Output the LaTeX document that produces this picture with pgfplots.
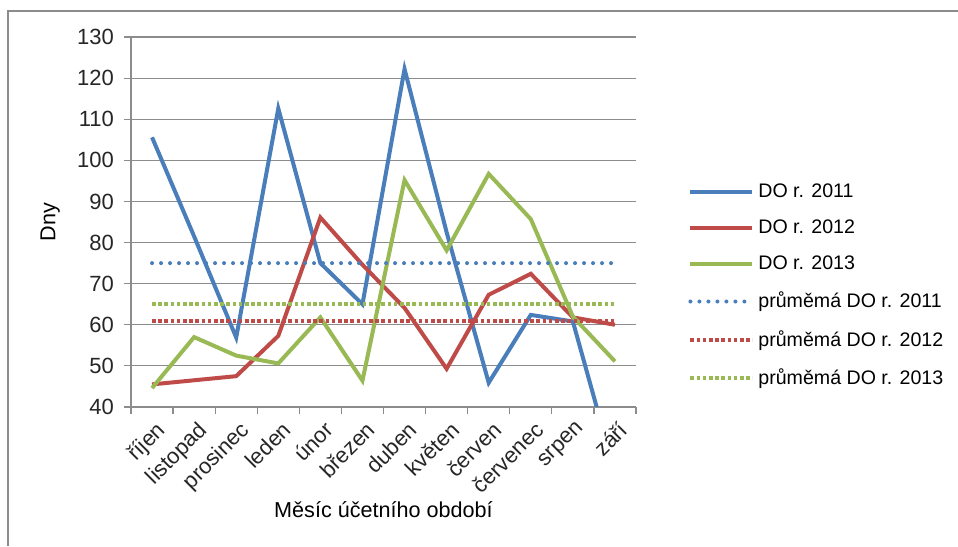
\documentclass[border=0pt]{standalone}
\usepackage{pgfplots}
\pgfplotsset{compat=1.18}
\usepackage{fontspec}
\setmainfont{Liberation Sans}
\definecolor{cblue}{HTML}{4A7EBB}
\definecolor{cred}{HTML}{BE4B48}
\definecolor{cgreen}{HTML}{98B954}
\definecolor{cgrid}{HTML}{8C8C8C}
\begin{document}
\begin{tikzpicture}
\useasboundingbox (0,0) rectangle (479pt,273pt);
\draw[cgrid, line width=1pt] (4pt,0) -- (4pt,267.5pt) -- (479pt,267.5pt);
\begin{axis}[
  at={(65.5pt,69.5pt)}, anchor=south west,
  width=252.5pt, height=185pt, scale only axis,
  xmin=-0.5, xmax=11.5, ymin=40, ymax=130,
  axis x line*=bottom, axis y line*=left,
  axis line style={cgrid, line width=0.6pt},
  ymajorgrids, grid style={cgrid, line width=0.6pt},
  ytick={40,50,...,130},
  xtick={0,...,11},
  xticklabels={říjen,listopad,prosinec,leden,únor,březen,duben,květen,červen,červenec,srpen,září},
  minor xtick={-0.5,0.5,...,11.5},
  major x tick style={draw=none},
  tick align=outside,
  major tick length=3.5pt, minor tick length=3.5pt,
  tick style={cgrid, line width=0.6pt},
  minor tick style={cgrid, line width=0.6pt},
  /pgf/number format/assume math mode=true,
  ticklabel style={font=\fontsize{11}{12}\selectfont, text=black!85},
  xticklabel style={rotate=45, anchor=north east, inner sep=1pt, yshift=-2pt},
  yticklabel style={xshift=-1.5pt},
  ylabel={Dny},
  ylabel style={at={(axis description cs:-0.16,0.5)}, anchor=center, rotate=0, font=\fontsize{10.8}{12}\selectfont},
  xlabel={Měsíc účetního období},
  xlabel style={at={(axis description cs:0.5,-0.278)}, anchor=center, font=\fontsize{10.8}{12}\selectfont},
  legend style={at={(axis description cs:1.103,0.615)}, anchor=north west, draw=none, fill=none,
    font=\fontsize{9.8}{12}\selectfont, row sep=5.7pt, inner sep=0pt,
    /tikz/every even column/.append style={column sep=0pt}},
  legend cell align=left,
  legend image code/.code={\draw[#1] (0pt,0pt) -- (31pt,0pt);},
  clip=true,
]
\addplot[cblue, line width=2pt] coordinates {(0,105.6) (1,81.5) (2,56.9) (3,112.6) (4,75.0) (5,65.0) (6,122.2) (7,82.5) (8,45.9) (9,62.4) (10,60.8) (11,24)};
\addlegendentry{DO r. 2011}
\addplot[cred, line width=2pt] coordinates {(0,45.5) (1,46.5) (2,47.5) (3,57.3) (4,86.1) (5,74.6) (6,64.1) (7,49.3) (8,67.3) (9,72.4) (10,61.8) (11,60.0)};
\addlegendentry{DO r. 2012}
\addplot[cgreen, line width=2pt] coordinates {(0,44.6) (1,57.0) (2,52.5) (3,50.6) (4,61.8) (5,46.4) (6,95.2) (7,78.1) (8,96.7) (9,85.7) (10,62.0) (11,51.1)};
\addlegendentry{DO r. 2013}
\addplot[cblue, line width=2pt, line cap=round, dash pattern=on 0pt off 4.5pt] coordinates {(0,75) (11,75)};
\addlegendentry{průměmá DO r. 2011}
\addplot[cred, line width=2pt, dash pattern=on 1.8pt off 1.3pt] coordinates {(0,61) (11,61)};
\addlegendentry{průměmá DO r. 2012}
\addplot[cgreen, line width=2pt, dash pattern=on 1.8pt off 1.3pt] coordinates {(0,65) (11,65)};
\addlegendentry{průměmá DO r. 2013}
\end{axis}
\end{tikzpicture}
\end{document}
